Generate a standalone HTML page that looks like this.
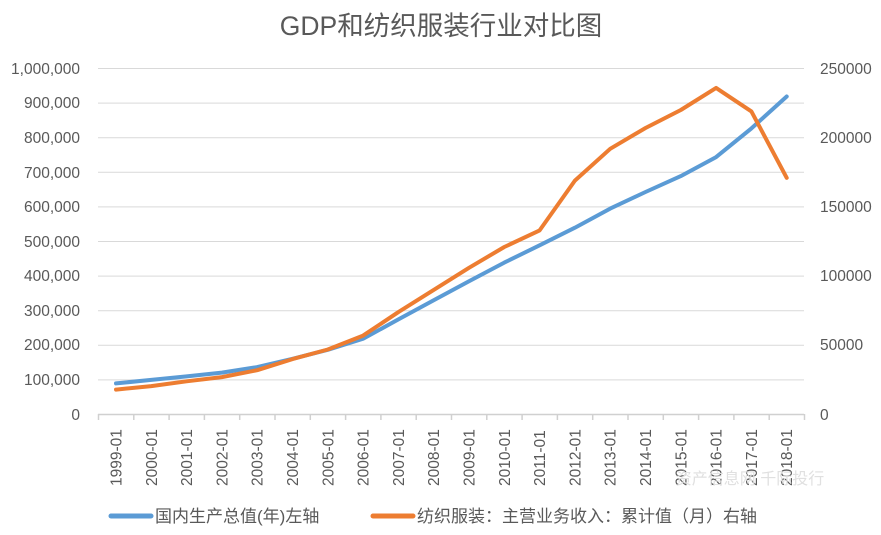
<!DOCTYPE html>
<html><head><meta charset="utf-8"><style>
body{margin:0;background:#fff;}
text{font-family:"Liberation Sans","Noto Sans CJK SC",sans-serif;fill:#595959;}
</style></head><body>
<svg width="881" height="530" viewBox="0 0 881 530" xmlns="http://www.w3.org/2000/svg">
<rect width="881" height="530" fill="#fff"/>
<text x="441" y="35" font-size="26.5" text-anchor="middle">GDP和纺织服装行业对比图</text>
<g stroke="#d9d9d9" stroke-width="1">
<line x1="98" y1="68.5" x2="804" y2="68.5"/>
<line x1="98" y1="103.1" x2="804" y2="103.1"/>
<line x1="98" y1="137.7" x2="804" y2="137.7"/>
<line x1="98" y1="172.3" x2="804" y2="172.3"/>
<line x1="98" y1="206.9" x2="804" y2="206.9"/>
<line x1="98" y1="241.5" x2="804" y2="241.5"/>
<line x1="98" y1="276.1" x2="804" y2="276.1"/>
<line x1="98" y1="310.7" x2="804" y2="310.7"/>
<line x1="98" y1="345.3" x2="804" y2="345.3"/>
<line x1="98" y1="379.9" x2="804" y2="379.9"/>
</g>
<line x1="98" y1="414.5" x2="804" y2="414.5" stroke="#d0d0d0" stroke-width="1.5"/>
<g font-size="15.5" text-anchor="end">
<text x="80" y="74">1,000,000</text><text x="80" y="108">900,000</text><text x="80" y="143">800,000</text>
<text x="80" y="178">700,000</text><text x="80" y="212">600,000</text><text x="80" y="247">500,000</text>
<text x="80" y="281">400,000</text><text x="80" y="316">300,000</text><text x="80" y="350">200,000</text>
<text x="80" y="385">100,000</text><text x="80" y="420">0</text>
</g>
<g font-size="15.5" text-anchor="start">
<text x="820" y="74">250000</text><text x="820" y="143">200000</text><text x="820" y="212">150000</text>
<text x="820" y="281">100000</text><text x="820" y="350">50000</text><text x="820" y="420">0</text>
</g>
<g id="xl" font-size="15.5"></g>
<text x="750" y="484" font-size="16" style="fill:#e0e0e0" text-anchor="middle">资产信息网 千际投行</text>
<polyline fill="none" stroke="#5b9bd5" stroke-width="4" stroke-linejoin="round" stroke-linecap="round" id="gdp"/>
<polyline fill="none" stroke="#ed7d31" stroke-width="4" stroke-linejoin="round" stroke-linecap="round" id="tex"/>
<line x1="111" y1="516" x2="151" y2="516" stroke="#5b9bd5" stroke-width="5" stroke-linecap="round"/>
<text x="155" y="522" font-size="17">国内生产总值(年)左轴</text>
<line x1="373" y1="516" x2="413" y2="516" stroke="#ed7d31" stroke-width="5" stroke-linecap="round"/>
<text x="417" y="522" font-size="17">纺织服装：主营业务收入：累计值（月）右轴</text>
</svg>
<script>
var g=[90,100,110,121,137,161,187,219,275,330,385,439,489,540,595,643,689,744,827,919];
var t=[18,20.5,24,27,32,40,47,57,74,90,106,121,133,169,192,207,220,236,219,171];
var pg=[],pt=[],s='';
for(var i=0;i<20;i++){var x=116+i*35.3;
pg.push(x+','+(414.5-g[i]*0.346).toFixed(1));
pt.push(x+','+(414.5-t[i]*1.384).toFixed(1));
s+='<text transform="translate('+(x+5.5)+',486) rotate(-90)" text-anchor="start">'+(1999+i)+'-01</text>';}
for(var i=0;i<=20;i++){var x=98.5+i*35.3;s+='<line x1="'+x+'" y1="414" x2="'+x+'" y2="420" stroke="#d0d0d0" stroke-width="1.5"/>';}
document.getElementById('gdp').setAttribute('points',pg.join(' '));
document.getElementById('tex').setAttribute('points',pt.join(' '));
document.getElementById('xl').innerHTML=s;
</script>
</body></html>
